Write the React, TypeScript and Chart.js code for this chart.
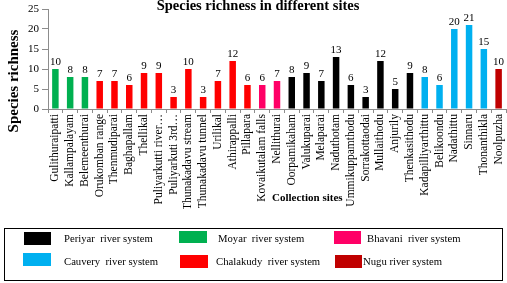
import React, { useEffect, useRef } from "react";
import { Chart, registerables } from "chart.js";

Chart.register(...registerables);

const chartTitle = "Species richness in different sites";
const yTitle = "Species richness";
const xTitle = "Collection sites";

const sites = [
  "Gulithuraipatti", "Kallampalayam", "Belemeenthurai", "Orukomban range", "Thenmudiparai",
  "Baghapallam", "Thellikal", "Puliyarkutti river…", "Puliyarkuti 3rd…", "Thunakadavu stream",
  "Thunakadavu tunnel", "Urilikal", "Athirappalli", "Pillapara", "Kovaikutalam falls",
  "Nellithurai", "Oorpamikaham", "Valukuparai", "Melaparai", "Naduthotam",
  "Ummikuppamthodu", "Sorrakottaodai", "Mullaithodu", "Anjurily", "Thenkasithodu",
  "Kadapilliyarthittu", "Belikoondu", "Nadathittu", "Sinnaru", "Thonanthikla", "Noolpuzha",
];

const richness = [10, 8, 8, 7, 7, 6, 9, 9, 3, 10, 3, 7, 12, 6, 6, 7, 8, 9, 7, 13, 6, 3, 12, 5, 9, 8, 6, 20, 21, 15, 10];

// river system index of each site (see systemNames)
const siteSystem = [1, 1, 1, 4, 4, 4, 4, 4, 4, 4, 4, 4, 4, 4, 2, 2, 0, 0, 0, 0, 0, 0, 0, 0, 0, 3, 3, 3, 3, 3, 5];

const systemNames = [
  "Periyar  river system",
  "Moyar  river system",
  "Bhavani  river system",
  "Cauvery  river system",
  "Chalakudy  river system",
  "Nugu river system",
];
const systemColors = ["#000000", "#00B050", "#FF0066", "#00B0F0", "#FF0000", "#C00000"];

const yMin = 0;
const yMax = 25;
const yStep = 5;

const FONT = '"Liberation Serif", "Times New Roman", serif';
const AXIS = "#8c8c8c";

Chart.defaults.font.family = FONT;
Chart.defaults.color = "#000";

const overlay = {
  id: "overlay",
  afterDraw(chart: any) {
    const ctx = chart.ctx as CanvasRenderingContext2D;
    ctx.save();
    ctx.fillStyle = "#000";

    // value labels
    const meta = chart.getDatasetMeta(0);
    ctx.font = `11px ${FONT}`;
    ctx.textAlign = "center";
    ctx.textBaseline = "alphabetic";
    meta.data.forEach((bar: any, i: number) => {
      ctx.fillText(String(richness[i]), bar.x, bar.y - 4);
    });

    // chart title
    ctx.font = `bold 14.5px ${FONT}`;
    ctx.fillText(chartTitle, 258, 10);

    // y title
    ctx.save();
    ctx.translate(14, 81);
    ctx.rotate(-Math.PI / 2);
    ctx.font = `bold 15px ${FONT}`;
    ctx.textBaseline = "middle";
    ctx.fillText(yTitle, 0, 0);
    ctx.restore();

    // x title
    ctx.textAlign = "left";
    ctx.font = `bold 11px ${FONT}`;
    ctx.fillText(xTitle, 272, 201);

    // legend box
    ctx.strokeStyle = "#000";
    ctx.lineWidth = 1;
    ctx.strokeRect(4.5, 228.5, 498, 52);

    const swatches = [
      [24, 232, 27, 13, 64, 239],
      [179, 231, 28, 12, 218, 239],
      [334, 231, 27, 13, 367, 239],
      [23, 253, 28, 13, 64, 262],
      [180, 255, 28, 13, 216, 262],
      [335, 255, 27, 13, 363, 262],
    ];
    ctx.font = `10.7px ${FONT}`;
    ctx.textBaseline = "middle";
    systemNames.forEach((name, k) => {
      const [x, y, w, h, tx, ty] = swatches[k];
      ctx.fillStyle = systemColors[k];
      ctx.fillRect(x, y, w, h);
      ctx.fillStyle = "#000";
      ctx.fillText(name, tx, ty);
    });

    ctx.restore();
  },
};

export default function App() {
  const ref = useRef<HTMLCanvasElement>(null);

  useEffect(() => {
    document.body.style.margin = "0";
    const canvas = ref.current!;
    const chart = new Chart(canvas, {
      type: "bar",
      data: {
        labels: sites,
        datasets: [
          {
            data: richness,
            backgroundColor: siteSystem.map((s) => systemColors[s]),
            barPercentage: 0.44,
            categoryPercentage: 1,
          },
        ],
      },
      options: {
        responsive: false,
        animation: false,
        layout: { padding: { top: 9, right: 1, bottom: 74, left: 0 } },
        plugins: { legend: { display: false }, tooltip: { enabled: false }, title: { display: false } },
        scales: {
          x: {
            grid: { drawOnChartArea: false, tickLength: 4, color: AXIS, offset: true },
            border: { color: AXIS },
            ticks: {
              autoSkip: false,
              maxRotation: 90,
              minRotation: 90,
              padding: 1,
              color: "#000",
              font: { family: FONT, size: 11.5 },
            },
            afterFit: (scale: any) => {
              scale.height = 100;
              scale.paddingLeft = 0;
              scale.paddingRight = 0;
            },
          },
          y: {
            min: yMin,
            max: yMax,
            grid: { drawOnChartArea: false, tickLength: 6, color: AXIS },
            border: { color: AXIS },
            ticks: {
              stepSize: yStep,
              padding: 3,
              color: "#000",
              font: { family: FONT, size: 11 },
            },
            afterFit: (scale: any) => {
              scale.width = 48;
              scale.paddingTop = 0;
              scale.paddingBottom = 0;
            },
          },
        },
      },
      plugins: [overlay],
    });
    return () => chart.destroy();
  }, []);

  return <canvas ref={ref} width={507} height={283} style={{ display: "block" }} />;
}
